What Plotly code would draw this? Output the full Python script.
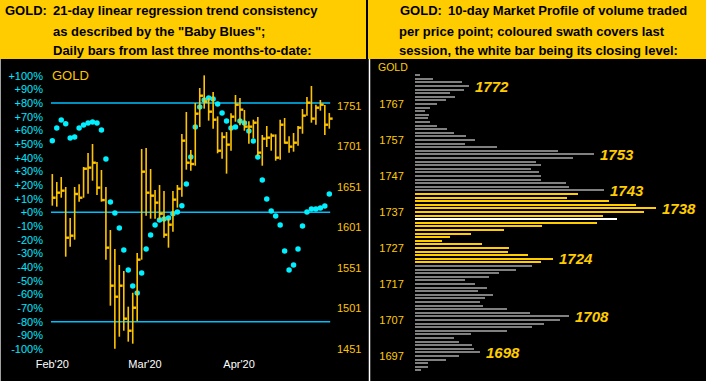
import plotly.graph_objects as go

W, H = 706, 381

# ---------------- Left panel data (daily HLC bars + "Baby Blues") ----------------
highs = [1667.0, 1657.2, 1663.3, 1651.0, 1612.7, 1651.0, 1654.3, 1675.7, 1693.0, 1704.1,
         1681.9, 1672.0, 1651.0, 1597.9, 1574.5, 1554.7, 1547.3, 1503.3, 1520.5, 1569.5,
         1697.9, 1699.1, 1673.2, 1647.3, 1653.5, 1646.1, 1611.9, 1646.1, 1653.5, 1716.4,
         1743.6, 1696.7, 1754.7, 1773.2, 1788.8, 1760.9, 1768.3, 1738.2, 1718.5, 1718.9,
         1741.9, 1764.6, 1760.9, 1746.0, 1732.1, 1734.1, 1737.4, 1715.2, 1726.3, 1717.2,
         1716.0, 1734.1, 1736.2, 1713.5, 1717.7, 1726.3, 1747.3, 1762.1, 1775.7, 1752.6,
         1758.4, 1752.2, 1742.3]
lows = [1628.0, 1626.7, 1637.8, 1565.0, 1577.3, 1586.0, 1632.9, 1637.8, 1642.8, 1658.8,
        1641.1, 1632.9, 1561.3, 1504.5, 1451.4, 1466.2, 1473.6, 1460.1, 1457.6, 1485.2,
        1561.3, 1615.6, 1611.9, 1611.9, 1610.7, 1588.4, 1576.1, 1595.9, 1625.5, 1639.1,
        1672.4, 1671.2, 1677.3, 1725.1, 1747.7, 1732.9, 1723.0, 1692.6, 1686.0, 1667.5,
        1695.8, 1731.6, 1727.1, 1720.5, 1704.5, 1711.1, 1689.3, 1677.3, 1700.4, 1695.8,
        1683.5, 1684.7, 1704.5, 1693.4, 1694.6, 1702.0, 1716.8, 1739.1, 1730.4, 1727.9,
        1745.2, 1715.2, 1723.0]
closes = [1637.8, 1644.0, 1646.5, 1588.4, 1590.9, 1642.4, 1637.8, 1673.6, 1674.9, 1681.0,
          1650.2, 1634.9, 1576.1, 1529.2, 1515.6, 1529.2, 1488.5, 1473.6, 1502.0, 1561.3,
          1669.9, 1644.0, 1640.3, 1631.7, 1618.1, 1592.1, 1604.5, 1635.4, 1648.9, 1708.2,
          1681.0, 1679.4, 1741.5, 1763.7, 1756.3, 1744.0, 1734.1, 1695.8, 1712.7, 1703.3,
          1737.8, 1752.6, 1746.5, 1725.5, 1725.5, 1730.4, 1693.4, 1710.7, 1711.9, 1714.4,
          1687.2, 1727.9, 1705.7, 1700.8, 1705.7, 1724.2, 1739.1, 1755.1, 1735.4, 1748.9,
          1752.6, 1727.9, 1735.4]
baby_blues = [52.4, 61.7, 67.6, 64.9, 54.4, 55.1, 61.7, 63.9, 65.4, 66.1,
              65.4, 60.2, 39.0, 7.6, -0.5, -11.5, -27.6, -42.2, -53.9, -59.0,
              -44.4, -26.8, -16.6, -9.3, -5.6, -4.9, -4.1, -1.0, 0.2, 4.9,
              20.7, 40.5, 62.4, 77.1, 82.2, 83.7, 82.9, 79.3, 72.7, 66.8,
              61.7, 62.4, 66.8, 65.4, 59.5, 52.2, 40.5, 23.7, 9.8, 1.0,
              -2.7, -9.3, -28.3, -42.2, -38.5, -26.8, -10.0, 0.2, 2.4, 2.4,
              3.2, 4.6, 13.4]
days = list(range(len(closes)))

month_tick_pos = [0, 20.75, 41.8]
month_tick_text = ["Feb'20", "Mar'20", "Apr'20"]
pct_tick_vals = [100, 90, 80, 70, 60, 50, 40, 30, 20, 10, 0,
                 -10, -20, -30, -40, -50, -60, -70, -80, -90, -100]
pct_tick_text = ["+100%", "+90%", "+80%", "+70%", "+60%", "+50%", "+40%", "+30%", "+20%",
                 "+10%", "+0%", "-10%", "-20%", "-30%", "-40%", "-50%", "-60%", "-70%",
                 "-80%", "-90%", "-100%"]
price_tick_vals = [1451, 1501, 1551, 1601, 1651, 1701, 1751]
ref_levels = [80, 0, -80]

# ---------------- Right panel data (10-day market profile) ----------------
profile_prices = list(range(1775, 1692, -1))
profile_volume = [4.7, 17.7, 47, 53.7, 48.7, 34.7, 39.7, 31, 21.7, 14.7,
                  10.3, 13.7, 12.7, 14.7, 21.7, 31.7, 38.7, 50.7, 59.7, 49.7,
                  81.7, 143, 178.7, 158, 121, 126, 116.3, 124, 126, 126,
                  151, 154, 189, 163, 152, 194, 221, 241, 229, 188,
                  202, 182, 127, 89, 56, 35, 27, 67, 94, 93,
                  113, 138, 126, 117, 101, 84, 74, 50, 60, 72,
                  63, 78, 70, 65, 68, 92, 115, 154, 145, 129,
                  117, 92, 56, 39, 44, 57, 59, 65, 44, 31,
                  13, 13, 6]
profile_labels = [1772, 1753, 1743, 1738, 1724, 1708, 1698]
profile_tick_vals = [1697, 1707, 1717, 1727, 1737, 1747, 1757, 1767]

GOLDC = "#FFC400"
CYAN = "#00F0FF"
LINEBLUE = "#00BFFF"
YELLOW = "#FFCC00"

def px(x):
    return x / W

def py(y):
    return 1 - y / H

fig = go.Figure()

# HLC bars: vertical range + right-hand close tick
fig.add_trace(go.Scatter(
    x=days, y=lows, mode="markers", yaxis="y2",
    marker=dict(size=1, color="rgba(0,0,0,0)"),
    error_y=dict(type="data", symmetric=False,
                 array=[h - l for h, l in zip(highs, lows)],
                 arrayminus=[0] * len(lows), width=0, thickness=1.6, color=GOLDC),
    hoverinfo="skip", showlegend=False))
fig.add_trace(go.Scatter(
    x=days, y=closes, mode="markers", yaxis="y2",
    marker=dict(size=1, color="rgba(0,0,0,0)"),
    error_x=dict(type="data", symmetric=False, array=[0.75] * len(closes),
                 arrayminus=[0] * len(closes), width=0, thickness=2.4, color=GOLDC),
    hoverinfo="skip", showlegend=False))
# Baby Blues
fig.add_trace(go.Scatter(
    x=days, y=baby_blues, mode="markers", yaxis="y",
    marker=dict(size=5.5, color=CYAN, symbol="circle", line=dict(width=0)),
    hoverinfo="skip", showlegend=False))

# Market profile
last_hi, last_lo, last_close = highs[-1], lows[-1], closes[-1]
bar_colors = []
for p in profile_prices:
    if p == round(last_close):
        bar_colors.append("#FFFFFF")
    elif last_lo - 0.5 <= p <= last_hi + 0.5:
        bar_colors.append(YELLOW)
    else:
        bar_colors.append("#808080")
fig.add_trace(go.Bar(
    x=profile_volume, y=profile_prices, orientation="h", xaxis="x3", yaxis="y3",
    marker=dict(color=bar_colors, line=dict(width=0)), width=0.58,
    hoverinfo="skip", showlegend=False))

shapes = []
# headers
shapes.append(dict(type="rect", xref="paper", yref="paper", x0=0, x1=px(366), y0=py(59), y1=1,
                   fillcolor=YELLOW, line=dict(width=0), layer="below"))
shapes.append(dict(type="rect", xref="paper", yref="paper", x0=px(368), x1=1, y0=py(59), y1=1,
                   fillcolor=YELLOW, line=dict(width=0), layer="below"))
# left border
shapes.append(dict(type="line", xref="paper", yref="paper", x0=px(0.5), x1=px(0.5), y0=py(59), y1=0,
                   line=dict(color="#A0A0A0", width=1)))
# right panel white line
shapes.append(dict(type="line", xref="paper", yref="paper", x0=px(369.5), x1=px(369.5), y0=py(59), y1=0,
                   line=dict(color="#FFFFFF", width=1.5)))
# reference levels
for lv in ref_levels:
    shapes.append(dict(type="line", xref="x", yref="y", x0=-0.3, x1=62.2, y0=lv, y1=lv,
                       line=dict(color=LINEBLUE, width=1.5), layer="below"))

ann = []
hfont = dict(family="Arial, Liberation Sans", size=13, color="#000000")
def hdr(x, y, t):
    ann.append(dict(xref="paper", yref="paper", x=px(x), y=py(y), text="<b>" + t + "</b>",
                    showarrow=False, xanchor="left", yanchor="middle", font=hfont))
hdr(3, 11, "GOLD:")
hdr(51, 11, "21-day linear regression trend consistency")
hdr(51, 31, "as described by the \"Baby Blues\";")
hdr(51, 50, "Daily bars from last three months-to-date:")
hdr(398, 11, "GOLD:")
hdr(446, 11, "10-day Market Profile of volume traded")
hdr(397, 31, "per price point; coloured swath covers last")
hdr(397, 50, "session, the white bar being its closing level:")

ann.append(dict(xref="paper", yref="paper", x=px(50), y=py(76), text="GOLD", showarrow=False,
                xanchor="left", yanchor="middle",
                font=dict(family="Arial, Liberation Sans", size=13, color=GOLDC)))
ann.append(dict(xref="paper", yref="paper", x=px(376), y=py(67), text="GOLD", showarrow=False,
                xanchor="left", yanchor="middle",
                font=dict(family="Arial, Liberation Sans", size=10.5, color=YELLOW)))

vol_by_price = dict(zip(profile_prices, profile_volume))
for lp in profile_labels:
    ann.append(dict(xref="x3", yref="y3", x=vol_by_price[lp], y=lp, text="<b><i>%d</i></b>" % lp,
                    showarrow=False, xanchor="left", yanchor="middle", xshift=4,
                    font=dict(family="Arial, Liberation Sans", size=15, color=YELLOW)))

axfont = "Arial, Liberation Sans"
fig.update_layout(
    template="none",
    width=W, height=H, margin=dict(l=0, r=0, t=0, b=0, pad=0, autoexpand=False),
    paper_bgcolor="#000000", plot_bgcolor="#000000",
    showlegend=False, shapes=shapes, annotations=ann, bargap=0, hovermode=False,
    modebar=dict(bgcolor="rgba(0,0,0,0)", color="rgba(0,0,0,0)", activecolor="rgba(0,0,0,0)"),
    xaxis=dict(domain=[px(44), px(336)], range=[-1.86, 63.5], anchor="y", automargin=False,
               tickvals=month_tick_pos, ticktext=month_tick_text, showgrid=False, zeroline=False,
               showline=False, ticks="", tickfont=dict(family=axfont, size=11, color="#FFFFFF")),
    yaxis=dict(domain=[py(356), py(62)], range=[-105.12, 110.02], anchor="x", automargin=False,
               tickvals=pct_tick_vals, ticktext=pct_tick_text, showgrid=False, zeroline=False,
               showline=False, ticks="", tickfont=dict(family=axfont, size=11, color="#00E8FF")),
    yaxis2=dict(domain=[py(356), py(62)], range=[1442.4, 1805.3], overlaying="y", side="right",
                anchor="x", automargin=False, tickvals=price_tick_vals, showgrid=False,
                zeroline=False, showline=False, ticks="",
                tickfont=dict(family=axfont, size=11, color=GOLDC)),
    xaxis3=dict(domain=[px(415), 1], range=[0, 291], anchor="y3", visible=False, automargin=False),
    yaxis3=dict(domain=[0, py(62)], range=[1690.06, 1778.67], anchor="x3", automargin=False,
                tickvals=profile_tick_vals, showgrid=False, zeroline=False, showline=False,
                ticks="outside", ticklen=8, tickcolor="#000000",
                tickfont=dict(family=axfont, size=11, color=YELLOW)),
)

# remove the browser's default page margin so the 706x381 figure fills the window exactly
fig.write_html("out.html", config={"displayModeBar": False},
               post_script="document.body.style.margin='0px';")
